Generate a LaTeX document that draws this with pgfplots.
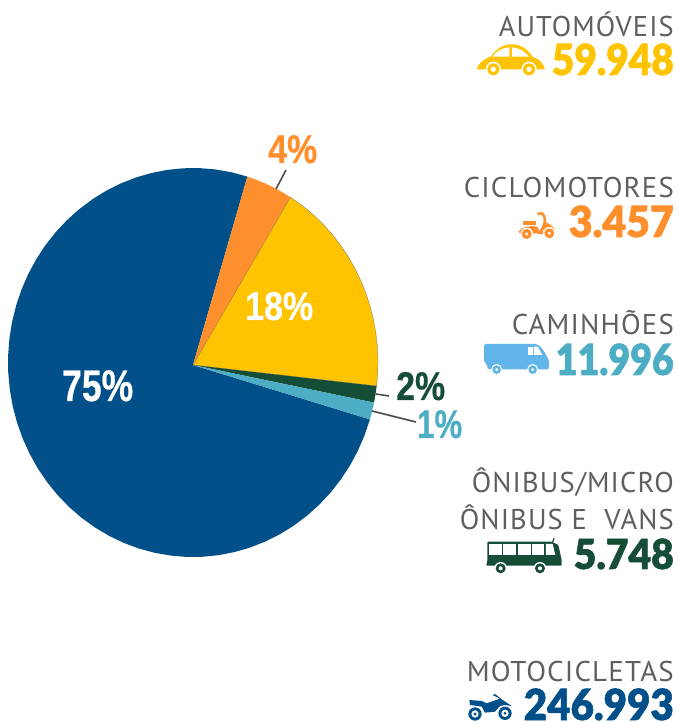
\documentclass[border=0pt]{standalone}
\usepackage{graphicx}
\usepackage{fontspec}
\setmainfont{PT Sans}[LetterSpace=4]
\newfontfamily\pctfont{Liberation Sans}[BoldFont={Liberation Sans Bold},BoldFeatures={FakeBold=0.6}]
\newfontfamily\numfont{Lato}[BoldFont={Lato Black},BoldFeatures={FakeBold=1.4}]
\usepackage{pgfplots}
\usepgfplotslibrary{polar}
\pgfplotsset{compat=1.18}
\definecolor{cY}{HTML}{FFC300}
\definecolor{cO}{HTML}{FF8F2D}
\definecolor{cL}{HTML}{4DADC4}
\definecolor{cG}{HTML}{154D36}
\definecolor{cN}{HTML}{02508A}
\definecolor{cT}{HTML}{62B5E8}
\definecolor{cGr}{HTML}{5F5F5F}
\newcommand\fit[3]{\resizebox{#1pt}{#2pt}{\vphantom{H}\smash{#3}}}
\newcommand\lab[3]{\node[anchor=base east,inner sep=0pt,text=cGr] at (674,#1) {\fit{#2}{20}{#3}};}
\newcommand\val[5]{\node[anchor=base east,inner sep=0pt,text=#5] at (674,#1) {\fit{#2}{#3}{\numfont\bfseries #4}};}
\newcommand\pct[6]{\node[anchor=base west,inner sep=0pt,text=#6] at (#1,#2) {\fit{#3}{#4}{\pctfont\bfseries #5\%}};}
\begin{document}
\begin{tikzpicture}
\path[use as bounding box] (0,0) rectangle (679pt,722pt);
\begin{axis}[at={(0,0)},anchor=south west,scale only axis,width=679pt,height=722pt,
  xmin=-193,xmax=486,ymin=-341.9,ymax=344.8,hide axis,clip=false]
\addplot[data cs=polar,fill=cN,draw=none,mark=none] coordinates {(270,2.4) (72.9,185) (78,185) (83,185) (88,185) (93,185) (98,185) (103,185) (108,185) (113,185) (118,185) (123,185) (128,185) (133,185) (138,185) (143,185) (148,185) (153,185) (158,185) (163,185) (168,185) (173,185) (178,185) (183,185) (188,185) (193,185) (198,185) (203,185) (208,185) (213,185) (218,185) (223,185) (228,185) (233,185) (238,185) (243,185) (248,185) (253,185) (258,185) (263,185) (268,185) (273,185) (278,185) (283,185) (288,185) (293,185) (298,185) (303,185) (308,185) (313,185) (318,185) (323,185) (328,185) (333,185) (338,185) (343,185) (270,2.4)};
\addplot[data cs=polar,fill=cO,draw=none,mark=none] coordinates {(270,2.4) (58.2,185) (61,185) (64,185) (67,185) (70,185) (72.9,185) (270,2.4)};
\addplot[data cs=polar,fill=cY,draw=black!60,line width=0.25pt,mark=none] coordinates {(270,2.4) (-6.95,185) (-3,185) (1,185) (5,185) (9,185) (13,185) (17,185) (21,185) (25,185) (29,185) (33,185) (37,185) (41,185) (45,185) (49,185) (53,185) (58.2,185) (270,2.4)};
\addplot[data cs=polar,fill=cG,draw=none,mark=none] coordinates {(270,2.4) (-11.9,185) (-10,185) (-8,185) (-6.95,185) (270,2.4)};
\addplot[data cs=polar,fill=cL,draw=none,mark=none] coordinates {(270,2.4) (-17,185) (-15,185) (-13,185) (-11.9,185) (270,2.4)};
\end{axis}
\begin{scope}[shift={(0,722pt)},x=1pt,y=-1pt]
% leader lines
\draw[color=black!70,line width=1.6pt] (286,170)--(276,189);
\draw[color=black!70,line width=1.6pt] (376,394)--(389,396);
\draw[color=black!70,line width=1.6pt] (372,411)--(416,422);
% percent labels
\pct{268}{163}{49}{28}{4}{cO}
\pct{245}{320}{68}{28}{18}{white}
\pct{396}{400}{49}{28}{2}{cG}
\pct{417}{438}{45}{28}{1}{cL}
\pct{62}{401}{71}{31}{75}{white}
% category labels
\lab{37}{175}{AUTOMÓVEIS}
\lab{198}{210}{CICLOMOTORES}
\lab{335}{162}{CAMINHÕES}
\lab{493}{202}{ÔNIBUS/MICRO}
\lab{530}{214}{ÔNIBUS E~ VANS}
\lab{681}{207}{MOTOCICLETAS}
% numbers
\val{75}{122}{30}{59.948}{cY}
\val{237}{105}{30}{3.457}{cO}
\val{375}{118}{30}{11.996}{cL}
\val{569}{100}{29}{5.748}{cG}
\val{720}{150}{30}{246.993}{cN}
\end{scope}
% car
\begin{scope}[shift={(450pt,722pt)},x=0.3333pt,y=-0.3333pt]
\fill[cY] (80,208) .. controls (85,190) and (100,178) .. (122,170) .. controls (140,145) and (160,133) .. (185,133) .. controls (215,133) and (235,150) .. (247,170) .. controls (268,176) and (280,190) .. (285,208) -- cycle;
\fill[white] (127,170) .. controls (140,153) and (155,144) .. (178,142) -- (178,170) -- cycle;
\fill[white] (186,142) .. controls (208,144) and (225,155) .. (237,170) -- (186,170) -- cycle;
\foreach \p in {(130,208),(237,208)} {\fill[white] \p circle (23); \fill[cY] \p circle (18); \fill[white] \p circle (8);}
% scooter
\fill[cO] (218,662) rectangle (257,676);
\fill[cO] (205,695) .. controls (215,680) and (240,676) .. (262,680) -- (272,700) -- (212,702) -- cycle;
\draw[cO,line width=2.6pt] (262,642) -- (275,640) .. controls (290,650) and (288,670) .. (270,698) -- (290,698);
\fill[cO] (283,665) .. controls (300,672) and (312,680) .. (316,692) -- (280,692) -- cycle;
\foreach \p in {(230,702),(298,700)} {\fill[white] \p circle (19); \fill[cO] \p circle (15); \fill[white] \p circle (5);}
\end{scope}
% truck
\begin{scope}[shift={(450pt,422pt)},x=0.3333pt,y=-0.3333pt]
\fill[cT,rounded corners=2pt] (102,132) -- (262,132) -- (280,150) -- (297,180) -- (297,208) -- (112,208) -- (112,192) -- (102,188) -- cycle;
\fill[white] (235,140) rectangle (248,165);
\fill[white] (252,140) -- (263,140) -- (277,165) -- (252,165) -- cycle;
\foreach \p in {(140,209),(248,209)} {\fill[white] \p circle (17); \fill[cT] \p circle (13); \fill[white] \p circle (5);}
\end{scope}
% bus
\begin{scope}[shift={(450pt,262pt)},x=0.3333pt,y=-0.3333pt]
\fill[cG,rounded corners=1pt] (112,245) -- (305,245) -- (325,255) -- (335,300) -- (335,317) -- (108,317) -- (112,305) -- cycle;
\draw[cG,line width=1.2pt] (308,246) -- (312,235);
\fill[white] (118,252) rectangle (155,285);
\fill[white] (160,252) rectangle (198,285);
\fill[white] (203,252) rectangle (243,285);
\fill[white] (247,252) rectangle (283,285);
\fill[white] (288,252) -- (308,252) -- (316,285) -- (288,285) -- cycle;
\foreach \p in {(152,325),(270,325)} {\fill[white] \p circle (19); \fill[cG] \p circle (15); \fill[white] \p circle (6);}
\end{scope}
% motorcycle
\begin{scope}[shift={(450pt,82pt)},x=0.3333pt,y=-0.3333pt]
\foreach \p in {(75,222),(165,220)} {\fill[cN] \p circle (20); \fill[white] \p circle (11); \fill[cN] \p circle (5);}
\fill[cN] (58,180) -- (95,183) -- (110,190) -- (150,176) -- (128,165) -- (135,162) -- (155,178) -- (185,198) -- (165,195) -- (150,198) -- (135,215) -- (105,218) -- (95,200) -- (60,195) -- cycle;
\end{scope}
\end{tikzpicture}
\end{document}
